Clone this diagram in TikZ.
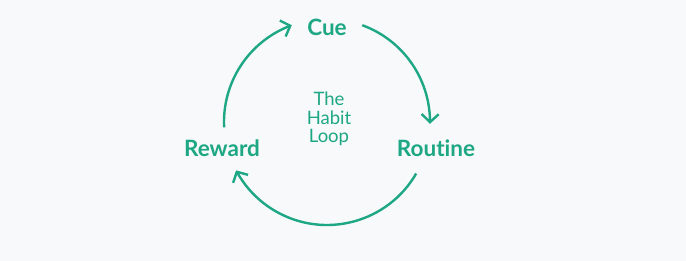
\documentclass[tikz,border=0pt]{standalone}
\usepackage{fontspec}
\setmainfont{Lato}[Ligatures={NoCommon}]
\usetikzlibrary{arrows.meta,bending}
\definecolor{loopgreen}{HTML}{1EA784}
\definecolor{loopbg}{HTML}{F7F9FA}

\begin{document}
\begin{tikzpicture}[
 x=1pt,y=1pt,
 stage/.style={text=loopgreen,font=\fontsize{22.5}{26}\selectfont\bfseries,inner sep=0pt},
 title/.style={text=loopgreen,font=\fontsize{18.5}{18.5}\selectfont,align=center,inner sep=0pt},
 arr/.style={-{Straight Barb[length=8pt,width=17pt,flex]},line width=2.4pt,draw=loopgreen}]
\fill[loopbg] (0,0) rectangle (686,261);
\useasboundingbox (0,0) rectangle (686,261);
\coordinate (hub) at (327,139);
\node[stage] (cue) at (327,234) {Cue};
\node[stage] (routine) at (436,113) {Routine};
\node[stage] (reward) at (222,113) {Reward};
\node[title] (loop) at (329,142) {The\\Habit\\Loop};
% three quarter-ish arcs round the hub
\draw[arr] (hub) ++(70:103) arc (70:-1:103);
\draw[arr] (hub) ++(-30:103) arc (-30:-152:103);
\draw[arr] (hub) ++(183:103) arc (183:110:103);
\end{tikzpicture}
\end{document}
